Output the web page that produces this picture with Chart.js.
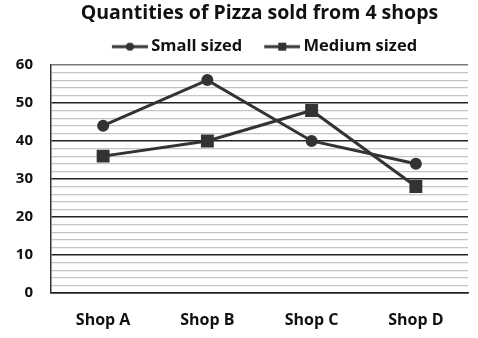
<!DOCTYPE html>
<html><head><meta charset="utf-8">
<script src="https://cdn.jsdelivr.net/npm/chart.js@4/dist/chart.umd.min.js"></script>
<style>html,body{margin:0;padding:0;background:#fff}#w{width:478px;height:338px}</style>
</head><body><div id="w"><canvas id="c"></canvas></div>
<script>
const categories = ['Shop A', 'Shop B', 'Shop C', 'Shop D'];
const smallSized = [44, 56, 40, 34];
const mediumSized = [36, 40, 48, 28];
const seriesNames = ['Small sized', 'Medium sized'];
const titleText = 'Quantities of Pizza sold from 4 shops';
const yMin = 0, yMax = 60, yMajor = 10, yMinor = 2;

const FONT = '"Open Sans", Lato, sans-serif';
const INK = '#333333';

// legend icon: transparent left margin (for spacing) + line with marker
function legendIcon(kind) {
  const m = 15, w = 36;
  const c = document.createElement('canvas');
  c.width = m + w; c.height = 12;
  const g = c.getContext('2d');
  g.strokeStyle = INK; g.lineWidth = 3;
  g.beginPath(); g.moveTo(m, 6); g.lineTo(m + w, 6); g.stroke();
  g.fillStyle = INK;
  if (kind === 'circle') { g.beginPath(); g.arc(m + w / 2, 6, 4, 0, Math.PI * 2); g.fill(); }
  else { g.fillRect(m + w / 2 - 4, 2, 8, 8); }
  return c;
}

new Chart(document.getElementById('c'), {
  type: 'line',
  data: {
    labels: categories,
    datasets: [
      { label: seriesNames[0], data: smallSized, borderColor: INK, backgroundColor: INK,
        borderWidth: 3, pointStyle: 'circle', pointRadius: 4.5, pointHoverRadius: 4.5, tension: 0 },
      { label: seriesNames[1], data: mediumSized, borderColor: INK, backgroundColor: INK,
        borderWidth: 3, pointStyle: 'rect', pointRadius: 7, pointHoverRadius: 7, tension: 0 }
    ]
  },
  options: {
    responsive: true, maintainAspectRatio: false, animation: false,
    layout: { padding: { left: 0, right: 10, top: 0, bottom: 0 } },
    plugins: {
      tooltip: { enabled: false },
      title: { display: true, text: titleText, fullSize: false, color: '#111',
        font: { family: FONT, size: 19.5, weight: 'bold' }, padding: { top: 2, bottom: 1 } },
      legend: { display: true, fullSize: false,
        labels: { usePointStyle: true, pointStyleWidth: 41, color: '#111', padding: 12,
          font: { family: FONT, size: 16.5, weight: 'bold', lineHeight: 1.0 },
          generateLabels: (chart) => chart.data.datasets.map((d, i) => ({
            text: d.label, pointStyle: legendIcon(i === 0 ? 'circle' : 'rect'),
            fillStyle: INK, strokeStyle: INK, lineWidth: 0, hidden: false, datasetIndex: i, fontColor: '#111'
          }))
        } }
    },
    scales: {
      x: {
        offset: true,
        grid: { display: false, drawTicks: false },
        border: { display: true, color: '#222', width: 1.5 },
        ticks: { color: '#111', padding: 18, font: { family: FONT, size: 16, weight: 'bold' } },
        afterFit: (s) => { s.height = 45; }
      },
      y: {
        min: yMin, max: yMax,
        grid: { drawTicks: false,
          color: (ctx) => ctx.tick && ctx.tick.value === yMax ? '#777' : (ctx.tick && ctx.tick.value % yMajor === 0 ? '#222' : '#c4c4c4'),
          lineWidth: (ctx) => ctx.tick && ctx.tick.value % yMajor === 0 ? 1.5 : 1.2 },
        border: { display: true, color: '#333', width: 1.5 },
        ticks: { stepSize: yMinor, autoSkip: false, color: '#111', padding: 18,
          font: { family: FONT, size: 15, weight: 'bold' },
          callback: (v) => (v % yMajor === 0 ? String(v) : '') },
        afterFit: (s) => { s.width = 51; }
      }
    }
  }
});
</script></body></html>
